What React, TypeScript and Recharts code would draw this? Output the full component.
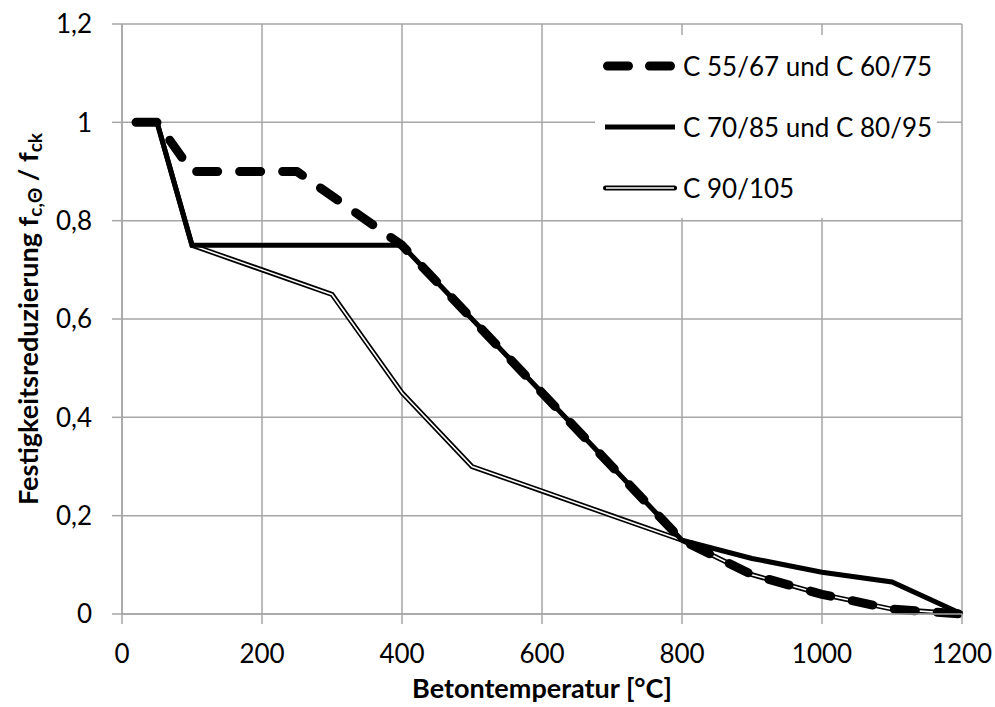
import { LineChart, Line, XAxis, YAxis, CartesianGrid, Legend } from 'recharts'

const xTicks = [0, 200, 400, 600, 800, 1000, 1200]
const yTicks = [0, 0.2, 0.4, 0.6, 0.8, 1, 1.2]

// C 55/67 und C 60/75
const tempA = [20, 50, 100, 250, 400, 500, 600, 700, 800, 900, 1000, 1100, 1200]
const redA = [1, 1, 0.9, 0.9, 0.75, 0.6, 0.45, 0.3, 0.15, 0.08, 0.04, 0.01, 0]

// C 70/85 und C 80/95
const tempB = [20, 50, 100, 400, 500, 600, 700, 800, 900, 1000, 1100, 1200]
const redB = [1, 1, 0.75, 0.75, 0.6, 0.45, 0.3, 0.15, 0.113, 0.085, 0.065, 0]

// C 90/105
const tempC = [20, 50, 100, 300, 400, 500, 600, 700, 800, 900, 1000, 1100, 1200]
const redC = [1, 1, 0.75, 0.65, 0.45, 0.3, 0.25, 0.2, 0.15, 0.08, 0.04, 0.01, 0]

const labels = ['C 55/67 und C 60/75', 'C 70/85 und C 80/95', 'C 90/105']

const toPoints = (t: number[], v: number[]) => t.map((x, i) => ({ t: x, v: v[i] }))
const dataA = toPoints(tempA, redA)
const dataB = toPoints(tempB, redB)
const dataC = toPoints(tempC, redC)

const FONT = 'Lato, "Open Sans", sans-serif'
const GRID = '#a6a6a6'
const FS = 26

const fmtY = (v: number) => String(Math.round(v * 10) / 10).replace('.', ',')

const LegendBox = () => (
  <div style={{ background: '#fff', paddingLeft: 8, fontFamily: FONT, fontSize: FS, color: '#000', lineHeight: 1 }}>
    {labels.map((l, i) => (
      <div key={l} style={{ display: 'flex', alignItems: 'center', height: 61 }}>
        <svg width={74} height={14} style={{ marginRight: 6, flexShrink: 0 }}>
          {i === 0 && (
            <line x1={4.5} y1={7} x2={68} y2={7} stroke="#000" strokeWidth={9} strokeLinecap="round" strokeDasharray="21 21" />
          )}
          {i === 1 && <line x1={2} y1={7} x2={72} y2={7} stroke="#000" strokeWidth={5} />}
          {i === 2 && (
            <>
              <line x1={2.5} y1={7} x2={71.5} y2={7} stroke="#000" strokeWidth={5} strokeLinecap="round" />
              <line x1={3} y1={7} x2={71} y2={7} stroke="#fff" strokeWidth={1.6} />
            </>
          )}
        </svg>
        <span style={{ whiteSpace: 'nowrap' }}>{l}</span>
      </div>
    ))}
  </div>
)

const YLabel = (props: any) => {
  const vb = props.viewBox || {}
  const cx = 27
  const cy = (vb.y ?? 24) + (vb.height ?? 590) / 2
  return (
    <text
      x={cx}
      y={cy}
      transform={`rotate(-90 ${cx} ${cy})`}
      textAnchor="middle"
      dominantBaseline="central"
      fontFamily={FONT}
      fontWeight="bold"
      fontSize={27}
      fill="#000"
    >
      Festigkeitsreduzierung f
      <tspan fontSize={19} dy={7}>c,Θ</tspan>
      <tspan dy={-7}> / f</tspan>
      <tspan fontSize={19} dy={7}>ck</tspan>
    </text>
  )
}

const XLabel = (props: any) => {
  const vb = props.viewBox || {}
  const cx = (vb.x ?? 122) + (vb.width ?? 840) / 2
  return (
    <text x={cx} y={698} textAnchor="middle" fontFamily={FONT} fontWeight="bold" fontSize={27} fill="#000">
      Betontemperatur [°C]
    </text>
  )
}

export default function App() {
  return (
    <div style={{ position: 'absolute', left: 0, top: 0, background: '#fff' }}>
      <LineChart width={995} height={707} margin={{ top: 24, right: 33, bottom: 43, left: 40 }}>
        <CartesianGrid stroke={GRID} strokeWidth={1.5} />
        <XAxis
          type="number"
          dataKey="t"
          domain={[0, 1200]}
          ticks={xTicks}
          stroke={GRID}
          strokeWidth={1.5}
          tickSize={10}
          tickMargin={21}
          height={50}
          tick={{ fill: '#000', fontSize: FS, fontFamily: FONT }}
          label={<XLabel />}
        />
        <YAxis
          type="number"
          dataKey="v"
          domain={[0, 1.2]}
          ticks={yTicks}
          tickFormatter={fmtY}
          stroke={GRID}
          strokeWidth={1.5}
          tickSize={10}
          tickMargin={20}
          width={82}
          tick={{ fill: '#000', fontSize: FS, fontFamily: FONT }}
          label={<YLabel />}
        />
        <Legend
          layout="horizontal"
          verticalAlign="middle"
          align="center"
          content={<LegendBox />}
          wrapperStyle={{ top: 35, left: 595, width: 342 }}
        />
        <Line
          data={dataC}
          dataKey="v"
          stroke="#000"
          strokeWidth={5}
          dot={false}
          legendType="none"
          isAnimationActive={false}
        />
        <Line
          data={dataC}
          dataKey="v"
          stroke="#fff"
          strokeWidth={1.6}
          dot={false}
          legendType="none"
          isAnimationActive={false}
        />
        <Line
          data={dataA}
          dataKey="v"
          stroke="#000"
          strokeWidth={9}
          strokeLinecap="round"
          strokeLinejoin="round"
          strokeDasharray="21 22"
          dot={false}
          isAnimationActive={false}
        />
        <Line
          data={dataB}
          dataKey="v"
          stroke="#000"
          strokeWidth={5}
          dot={false}
          isAnimationActive={false}
        />
      </LineChart>
    </div>
  )
}
